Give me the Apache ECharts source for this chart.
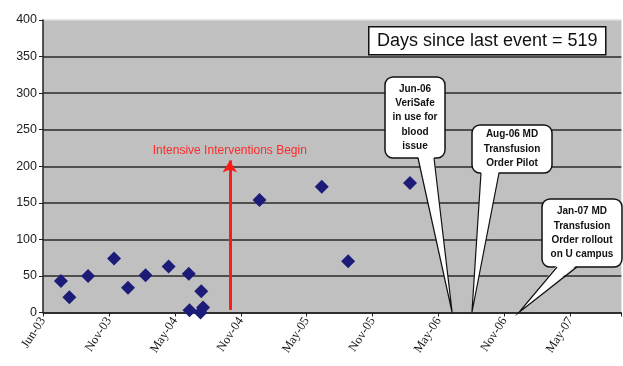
<!DOCTYPE html>
<html>
<head>
<meta charset="utf-8">
<script src="https://cdn.jsdelivr.net/npm/echarts@6/dist/echarts.min.js"></script>
<style>
  html, body { margin: 0; padding: 0; background: #fff; }
  #chart { width: 623px; height: 366px; }
</style>
</head>
<body>
<div id="chart"></div>
<script>
// x = days since Jun-03, y = value
const tickLabels = ['Jun-03', 'Nov-03', 'May-04', 'Nov-04', 'May-05', 'Nov-05', 'May-06', 'Nov-06', 'May-07'];
const tickStep = 180;
const eventDays = [49, 72, 123, 194, 232, 280, 343, 398, 432, 400, 430, 437, 591, 761, 833, 1002];
const eventVals = [43, 21, 50, 74, 34, 51, 63, 53, 29, 3, 0, 7, 154, 172, 70, 177];
const interventionDay = 510;
const interventionText = 'Intensive Interventions Begin';
const daysText = 'Days since last event = 519';
const milestoneDays = [1117, 1171, 1299];
const milestoneLines = [
  ['Jun-06', 'VeriSafe', 'in use for', 'blood', 'issue'],
  ['Aug-06 MD', 'Transfusion', 'Order Pilot'],
  ['Jan-07 MD', 'Transfusion', 'Order rollout', 'on U campus'],
];
// bubble boxes in pixels: [left, top, width, height, tailBaseL, tailBaseR]
const bubbleBoxes = [
  [385, 77, 60, 81, 418, 434],
  [472, 125, 80, 48, 481, 499],
  [542, 199, 80, 68, 557, 577],
];

const chart = echarts.init(document.getElementById('chart'));
const gridColors = ['#2a2a2a', '#2a2a2a', '#2a2a2a', '#2a2a2a', '#2a2a2a', '#2a2a2a', '#2a2a2a', '#2a2a2a', '#dcdcdc'];

chart.setOption({
  animation: false,
  grid: { left: 43, right: 0, top: 20, bottom: 53.5, show: true, backgroundColor: '#c0c0c0', borderWidth: 0 },
  xAxis: {
    type: 'value', min: 0, max: 1579, interval: tickStep,
    splitLine: { show: false },
    axisLine: { lineStyle: { color: '#222', width: 1.5 } },
    axisTick: { show: true, length: 4, lineStyle: { color: '#222' } },
    axisLabel: {
      rotate: 57, margin: 6, color: '#111', fontFamily: 'Liberation Serif', fontSize: 12.5,
      formatter: v => (v % tickStep === 0 ? tickLabels[v / tickStep] || '' : ''),
    },
  },
  yAxis: {
    type: 'value', min: 0, max: 400, interval: 50,
    splitLine: { show: true, lineStyle: { color: gridColors, width: 1.6 } },
    axisLine: { show: true, lineStyle: { color: '#222', width: 1.5 } },
    axisTick: { show: true, length: 4, lineStyle: { color: '#222' } },
    axisLabel: { color: '#222', fontFamily: 'Liberation Sans', fontSize: 12.5, margin: 6 },
  },
  series: [{
    type: 'scatter',
    data: eventDays.map((d, i) => [d, eventVals[i]]),
    symbol: 'diamond', symbolSize: 14,
    itemStyle: { color: '#1c1c78', opacity: 1 },
    markLine: {
      silent: true,
      symbol: ['none', 'arrow'], symbolSize: [11, 12],
      lineStyle: { color: '#ff1a1a', width: 3, type: 'solid' },
      label: {
        show: true, position: 'end', formatter: interventionText,
        color: '#ff2a2a', fontFamily: 'Liberation Sans', fontSize: 12, distance: 4,
      },
      data: [[{ coord: [interventionDay, 3.5] }, { coord: [interventionDay, 208] }]],
    },
  }],
});

// annotations: text box and callout bubbles pointing at milestone dates
const graphic = [{
  type: 'group', left: 368, top: 26,
  children: [
    { type: 'rect', shape: { x: 0, y: 0, width: 237, height: 28 }, style: { fill: '#fff', stroke: '#111', lineWidth: 1.5 } },
    { type: 'text', x: 118.5, y: 14, style: { text: daysText, fill: '#111', font: '18px "Liberation Sans"', align: 'center', verticalAlign: 'middle' } },
  ],
}];

milestoneDays.forEach((day, i) => {
  const [l, t, w, h, bl, br] = bubbleBoxes[i];
  const tip = chart.convertToPixel({ gridIndex: 0 }, [day, 0]);
  const bottom = t + h;
  graphic.push(
    { type: 'rect', z: 10, shape: { x: l, y: t, width: w, height: h, r: 8 }, style: { fill: '#fff', stroke: '#111', lineWidth: 1.5 } },
    { type: 'polygon', z: 11, shape: { points: [[bl, bottom - 2], [br, bottom - 2], tip] }, style: { fill: '#fff' } },
    { type: 'polyline', z: 12, shape: { points: [[bl, bottom], tip, [br, bottom]] }, style: { stroke: '#111', lineWidth: 1.2, fill: null } },
    {
      type: 'text', z: 13, x: l + w / 2, y: t + h / 2,
      style: {
        text: milestoneLines[i].join('\n'), fill: '#111', font: 'bold 10px "Liberation Sans"',
        align: 'center', verticalAlign: 'middle', lineHeight: 14.3,
      },
    },
  );
});

chart.setOption({ graphic });
</script>
</body>
</html>
